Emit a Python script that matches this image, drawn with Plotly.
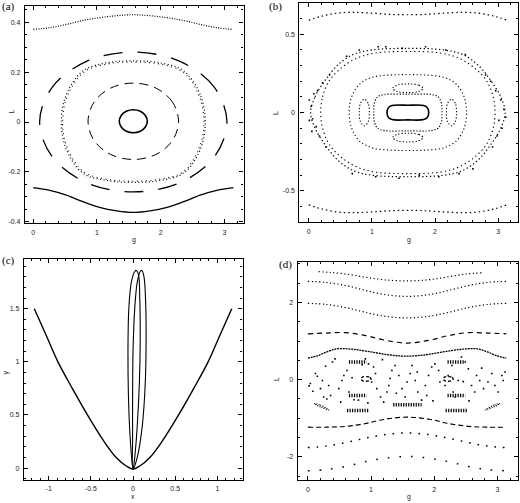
import plotly.graph_objects as go

# ---------------- panel (a): Poincare section, g vs L ----------------
a_top_g = [0, 0.26, 0.52, 0.78, 1.04, 1.31, 1.57, 1.83, 2.10, 2.36, 2.62, 2.88, 3.14]
a_top_L = [0.371, 0.378, 0.391, 0.407, 0.418, 0.426, 0.430, 0.426, 0.418, 0.407, 0.391, 0.378, 0.371]
a_bot_L = [-0.263, -0.274, -0.293, -0.319, -0.342, -0.356, -0.362, -0.356, -0.342, -0.319, -0.293, -0.274, -0.263]

a_core_g = [1.79, 1.76, 1.68, 1.57, 1.46, 1.38, 1.35, 1.38, 1.46, 1.57, 1.68, 1.76, 1.79]
a_core_L = [0.003, 0.026, 0.043, 0.049, 0.043, 0.026, 0.003, -0.020, -0.037, -0.043, -0.037, -0.020, 0.003]

a_in_g = [2.28, 2.185, 1.925, 1.57, 1.215, 0.955, 0.86, 0.955, 1.215, 1.57, 1.925, 2.185, 2.28]
a_in_L = [0.003, 0.080, 0.136, 0.156, 0.136, 0.080, 0.003, -0.074, -0.130, -0.150, -0.130, -0.074, 0.003]

a_mid_g = [2.70, 2.62, 2.36, 1.97, 1.57, 1.17, 0.78, 0.52, 0.44, 0.52, 0.78, 1.17, 1.57, 1.97, 2.36, 2.62, 2.70]
a_mid_L = [0.0, 0.11, 0.205, 0.238, 0.245, 0.238, 0.205, 0.11, 0.0, -0.11, -0.205, -0.235, -0.242, -0.235, -0.205, -0.11, 0.0]
a_mid2_g = [2.68, 2.60, 2.35, 1.965, 1.57, 1.175, 0.795, 0.54, 0.46, 0.54, 0.795, 1.175, 1.57, 1.965, 2.35, 2.60, 2.68]
a_mid2_L = [0.0, 0.107, 0.200, 0.233, 0.240, 0.233, 0.200, 0.107, 0.0, -0.107, -0.200, -0.230, -0.237, -0.230, -0.200, -0.107, 0.0]

a_out_g = [3.04, 2.84, 2.305, 1.57, 0.835, 0.30, 0.10, 0.30, 0.835, 1.57, 2.305, 2.84, 3.04]
a_out_L = [0.0, 0.14, 0.243, 0.28, 0.243, 0.14, 0.0, -0.14, -0.243, -0.28, -0.243, -0.14, 0.0]

# ---------------- panel (b) ----------------
b_edge_g = [0, 0.2, 0.45, 0.7, 1.0, 1.3, 1.57, 1.84, 2.14, 2.44, 2.69, 2.94, 3.14]
b_top_L = [0.59, 0.615, 0.635, 0.64, 0.635, 0.627, 0.625, 0.627, 0.635, 0.64, 0.635, 0.615, 0.59]
b_bot_L = [-0.59, -0.615, -0.635, -0.64, -0.635, -0.627, -0.625, -0.627, -0.635, -0.64, -0.635, -0.615, -0.59]

b_r1_g = [0.03, 0.1, 0.25, 0.45, 0.7, 1.0, 1.57, 2.14, 2.44, 2.69, 2.89, 3.04, 3.11,
          3.04, 2.89, 2.69, 2.44, 2.14, 1.57, 1.0, 0.7, 0.45, 0.25, 0.1, 0.03]
b_r1_L = [0, 0.1, 0.2, 0.3, 0.37, 0.4, 0.41, 0.4, 0.37, 0.3, 0.2, 0.1, 0,
          -0.1, -0.2, -0.3, -0.37, -0.4, -0.41, -0.4, -0.37, -0.3, -0.2, -0.1, 0]
b_r2_g = [0.19, 0.22, 0.32, 0.5, 0.75, 1.05, 1.57, 2.09, 2.39, 2.64, 2.82, 2.92, 2.95,
          2.92, 2.82, 2.64, 2.39, 2.09, 1.57, 1.05, 0.75, 0.5, 0.32, 0.22, 0.19]
b_r2_L = [0, 0.1, 0.2, 0.28, 0.345, 0.38, 0.39, 0.38, 0.345, 0.28, 0.2, 0.1, 0,
          -0.1, -0.2, -0.28, -0.345, -0.38, -0.39, -0.38, -0.345, -0.28, -0.2, -0.1, 0]

b_mid_g = [2.50, 2.46, 2.34, 2.14, 1.84, 1.57, 1.30, 1.00, 0.80, 0.68, 0.64,
           0.68, 0.80, 1.00, 1.30, 1.57, 1.84, 2.14, 2.34, 2.46, 2.50]
b_mid_L = [0, 0.1, 0.18, 0.225, 0.24, 0.242, 0.24, 0.225, 0.18, 0.1, 0,
           -0.1, -0.18, -0.225, -0.24, -0.242, -0.24, -0.225, -0.18, -0.1, 0]

b_rect_g = [2.11, 2.10, 2.05, 1.94, 1.57, 1.20, 1.09, 1.04, 1.03, 1.04, 1.09, 1.20, 1.57, 1.94, 2.05, 2.10, 2.11]
b_rect_L = [0, 0.06, 0.1, 0.115, 0.117, 0.115, 0.1, 0.06, 0, -0.06, -0.1, -0.115, -0.117, -0.115, -0.1, -0.06, 0]

b_core_g = [1.90, 1.88, 1.82, 1.57, 1.32, 1.26, 1.24, 1.26, 1.32, 1.57, 1.82, 1.88, 1.90]
b_core_L = [0, 0.03, 0.045, 0.047, 0.045, 0.03, 0, -0.03, -0.045, -0.047, -0.045, -0.03, 0]

b_ish_g = [1.81, 1.74, 1.57, 1.40, 1.33, 1.40, 1.57, 1.74, 1.81]
b_ish_top_L = [0.155, 0.175, 0.183, 0.175, 0.155, 0.135, 0.127, 0.135, 0.155]
b_ish_bot_L = [-0.16, -0.14, -0.132, -0.14, -0.16, -0.18, -0.188, -0.18, -0.16]
b_isv_left_g = [0.96, 0.94, 0.88, 0.82, 0.80, 0.82, 0.88, 0.94, 0.96]
b_isv_right_g = [2.34, 2.32, 2.26, 2.20, 2.18, 2.20, 2.26, 2.32, 2.34]
b_isv_L = [0, 0.06, 0.085, 0.06, 0, -0.06, -0.085, -0.06, 0]

b_sea_g = [0.01, 0.04, 0.06, 0.01, 0.12, 0.17, 0.27, 0.14, 0.22, 0.33, 0.08, 0.05,
           3.04, 3.09, 3.01, 3.06, 2.98, 2.91, 2.96, 2.88, 2.80, 3.12,
           0.80, 1.22, 1.48, 1.85, 2.17, 2.48, 0.60, 1.10,
           1.06, 1.43, 1.75, 2.06, 2.38, 0.69, 2.60]
b_sea_L = [0.08, 0.04, -0.04, -0.05, -0.09, -0.15, -0.22, 0.14, 0.19, 0.24, 0.12, -0.12,
           0.08, 0.02, -0.05, -0.10, -0.15, -0.22, 0.14, 0.20, 0.24, -0.03,
           0.40, 0.42, 0.41, 0.42, 0.40, 0.37, 0.36, 0.42,
           -0.41, -0.42, -0.40, -0.41, -0.39, -0.39, -0.36]

# ---------------- panel (c): orbit in x-y ----------------
c_v_x = [-1.17, -1.03, -0.89, -0.72, -0.54, -0.36, -0.2, -0.08, 0.0,
         0.08, 0.2, 0.36, 0.54, 0.72, 0.89, 1.03, 1.17]
c_v_y = [1.5, 1.25, 1.0, 0.75, 0.5, 0.27, 0.1, 0.02, -0.01,
         0.02, 0.1, 0.27, 0.5, 0.75, 1.0, 1.25, 1.5]
c_loopA_x = [0.0, -0.035, -0.055, -0.06, -0.05, -0.02, 0.02, 0.04, 0.065, 0.08, 0.085, 0.075, 0.05, 0.02, 0.0]
c_loopA_y = [-0.01, 0.3, 0.7, 1.1, 1.5, 1.75, 1.85, 1.86, 1.82, 1.6, 1.2, 0.8, 0.4, 0.1, -0.01]
c_loopB_x = [0.0, -0.005, -0.005, 0.0, 0.02, 0.05, 0.085, 0.105, 0.13, 0.15, 0.155, 0.145, 0.11, 0.05, 0.0]
c_loopB_y = [-0.01, 0.3, 0.7, 1.1, 1.5, 1.75, 1.85, 1.86, 1.8, 1.55, 1.2, 0.8, 0.4, 0.1, -0.01]

# ---------------- panel (d) ----------------
d_g = [0, 0.3, 0.6, 0.9, 1.2, 1.57, 1.94, 2.24, 2.54, 2.84, 3.14]
d1_g = [0.17, 0.35, 0.6, 0.9, 1.2, 1.57, 1.9, 2.2, 2.5, 2.75]
d1_L = [2.80, 2.78, 2.74, 2.66, 2.59, 2.56, 2.59, 2.66, 2.74, 2.77]
d2_L = [2.55, 2.52, 2.44, 2.32, 2.21, 2.16, 2.21, 2.32, 2.44, 2.52, 2.55]
d3_L = [1.98, 1.95, 1.87, 1.75, 1.65, 1.60, 1.65, 1.75, 1.87, 1.95, 1.98]
d4_L = [1.19, 1.21, 1.22, 1.15, 1.03, 0.95, 1.03, 1.15, 1.22, 1.21, 1.19]
d5_g = [0, 0.15, 0.3, 0.46, 0.7, 1.0, 1.3, 1.57, 1.84, 2.14, 2.44, 2.68, 2.84, 2.99, 3.14]
d5_L = [0.56, 0.62, 0.72, 0.80, 0.79, 0.72, 0.64, 0.61, 0.64, 0.72, 0.79, 0.80, 0.72, 0.62, 0.56]
d6_L = [-1.23, -1.23, -1.21, -1.14, -1.03, -0.97, -1.03, -1.14, -1.21, -1.23, -1.23]
d7_L = [-1.76, -1.72, -1.63, -1.52, -1.43, -1.38, -1.43, -1.52, -1.63, -1.72, -1.76]
d8_L = [-2.36, -2.33, -2.25, -2.13, -2.04, -1.99, -2.04, -2.13, -2.25, -2.33, -2.36]

# islands inside the chaotic sea: (g start, g end, L)
d_bars = [(0.65, 0.93, 0.46), (2.21, 2.49, 0.46), (0.65, 0.93, -0.41), (2.21, 2.49, -0.41),
          (0.62, 0.96, -0.80), (2.18, 2.52, -0.80), (1.35, 1.80, -0.65)]
d_diagL_g = [0.10, 0.20, 0.33, 0.22, 0.10]
d_diagL_L = [-0.62, -0.66, -0.78, -0.72, -0.62]
d_diagR_g = [3.04, 2.94, 2.81, 2.92, 3.04]
d_diagR_L = [-0.62, -0.66, -0.78, -0.72, -0.62]
d_smallL_g = [1.00, 0.97, 0.92, 0.87, 0.84, 0.87, 0.92, 0.97, 1.00]
d_smallR_g = [2.30, 2.27, 2.22, 2.17, 2.14, 2.17, 2.22, 2.27, 2.30]
d_small_L = [0.02, 0.07, 0.08, 0.07, 0.02, -0.03, -0.04, -0.03, 0.02]

d_sea_g = [0.43, 0.39, 0.28, 0.12, 0.04, 0.02, 0.15, 0.23, 0.20, 0.33, 0.36, 0.25, 0.49, 0.54,
           0.57, 0.62, 0.65, 0.73, 0.80, 0.86, 0.91, 0.96, 1.04, 1.07, 1.01, 1.09, 1.15, 1.20,
           1.25, 1.28, 1.30, 1.33, 1.38, 1.44, 1.49, 1.54, 1.57, 1.62, 1.65, 1.70, 1.74, 1.80,
           1.86, 1.88, 1.91, 1.96, 2.01, 2.07, 2.09, 2.17, 2.22, 2.28, 2.30, 2.33, 2.38, 2.43,
           2.49, 2.54, 2.59, 2.64, 2.67, 2.72, 2.78, 2.85, 2.91, 2.96, 3.01, 3.07, 3.09, 0.08,
           0.52, 0.70, 1.18, 1.40, 1.73, 1.98, 2.46, 2.75, 3.12, 0.30, 0.95, 2.55]
d_sea_L = [0.54, 0.46, 0.35, 0.16, -0.10, -0.16, 0.09, -0.02, -0.23, -0.15, -0.41, -0.45, -0.23, -0.02,
           0.11, 0.24, -0.32, -0.52, -0.53, 0.39, 0.54, 0.41, 0.33, 0.16, -0.06, -0.23, -0.45, -0.58,
           -0.32, -0.15, 0.03, 0.24, 0.37, 0.11, -0.23, -0.45, -0.06, 0.16, 0.37, -0.02, -0.32, -0.53,
           -0.15, -0.41, 0.11, 0.33, 0.41, 0.24, -0.06, -0.15, 0.11, 0.37, -0.32, -0.45, -0.02, 0.59,
           0.46, 0.28, -0.15, -0.32, 0.11, -0.02, -0.23, -0.06, 0.16, -0.15, -0.32, 0.11, -0.02, -0.30,
           -0.58, 0.05, 0.52, -0.35, 0.20, -0.55, -0.05, 0.30, 0.20, -0.50, -0.60, -0.55]

# tick labels
a_xt = [0, 1, 2, 3]
a_yt = [-0.4, -0.2, 0, 0.2, 0.4]
a_ytt = ["-0.4", "-0.2", "0", "0.2", "0.4"]
b_yt = [-0.5, 0, 0.5]
b_ytt = ["-0.5", "0", "0.5"]
c_xt = [-1, -0.5, 0, 0.5, 1]
c_xtt = ["-1", "-0.5", "0", "0.5", "1"]
c_yt = [0, 0.5, 1, 1.5]
c_ytt = ["0", "0.5", "1", "1.5"]
d_yt = [-2, 0, 2]
d_ytt = ["-2", "0", "2"]

fig = go.Figure()


def curve(n, x, y, dash="solid", width=1.0, smooth=True):
    fig.add_trace(go.Scatter(
        x=x, y=y, xaxis="x" + n, yaxis="y" + n, mode="lines",
        line=dict(color="black", width=width, dash=dash,
                  shape="spline" if smooth else "linear", smoothing=1.0),
        hoverinfo="skip", showlegend=False))


def dots(n, x, y, size=1.6):
    fig.add_trace(go.Scatter(
        x=x, y=y, xaxis="x" + n, yaxis="y" + n, mode="markers",
        marker=dict(color="black", size=size, symbol="square", line_width=0),
        hoverinfo="skip", showlegend=False))


# (a)
curve("", a_top_g, a_top_L, dash="1px,1.5px", width=1.2)
curve("", a_top_g, a_bot_L, width=1.3)
curve("", a_core_g, a_core_L, width=1.6)
curve("", a_in_g, a_in_L, dash="9px,6px", width=1.0)
curve("", a_mid_g, a_mid_L, dash="1px,2.5px", width=1.2)
curve("", a_mid2_g, a_mid2_L, dash="1px,3.5px", width=1.1)
curve("", a_out_g, a_out_L, dash="19px,15px", width=1.3)

# (b)
curve("2", b_edge_g, b_top_L, dash="1.5px,3px", width=1.2)
curve("2", b_edge_g, b_bot_L, dash="1.5px,3px", width=1.2)
curve("2", b_r1_g, b_r1_L, dash="1.3px,2.5px", width=1.2)
curve("2", b_r2_g, b_r2_L, dash="1.3px,3px", width=1.1)
dots("2", b_sea_g, b_sea_L)
curve("2", b_mid_g, b_mid_L, dash="1.2px,2.5px", width=1.1)
curve("2", b_rect_g, b_rect_L, dash="1.2px,1.8px", width=1.2)
curve("2", b_core_g, b_core_L, width=1.6)
curve("2", b_ish_g, b_ish_top_L, dash="1.2px,2px", width=1.1)
curve("2", b_ish_g, b_ish_bot_L, dash="1.2px,2px", width=1.1)
curve("2", b_isv_left_g, b_isv_L, dash="1.2px,2px", width=1.1)
curve("2", b_isv_right_g, b_isv_L, dash="1.2px,2px", width=1.1)

# (c)
curve("3", c_v_x, c_v_y, width=1.4)
curve("3", c_loopA_x, c_loopA_y, width=1.1)
curve("3", c_loopB_x, c_loopB_y, width=1.1)

# (d)
curve("4", d1_g, d1_L, dash="1.2px,2.5px", width=1.2)
curve("4", d_g, d2_L, dash="1.2px,2.5px", width=1.2)
curve("4", d_g, d3_L, dash="1.2px,2.5px", width=1.2)
curve("4", d_g, d4_L, dash="5px,4px", width=1.2)
curve("4", d5_g, d5_L, dash="2px,0.8px", width=1.3)
curve("4", d_g, d6_L, dash="5px,3px", width=1.1)
curve("4", d_g, d7_L, dash="1.6px,7px", width=1.5)
curve("4", d_g, d8_L, dash="1.6px,10px", width=1.5)
for g0, g1, L0 in d_bars:
    curve("4", [g0, g1], [L0, L0], dash="1.2px,1.3px", width=3.5, smooth=False)
curve("4", d_diagL_g, d_diagL_L, dash="1px,1.3px", width=1.2)
curve("4", d_diagR_g, d_diagR_L, dash="1px,1.3px", width=1.2)
curve("4", d_smallL_g, d_small_L, dash="3px,2px", width=1.4)
curve("4", d_smallR_g, d_small_L, dash="3px,2px", width=1.4)
dots("4", d_sea_g, d_sea_L)

W, H = 520, 503
tickfont = dict(family="Liberation Sans, Arial, sans-serif", size=7, color="#222")


def axis(rng, dom, dtick_minor, vals, text=None, anchor=""):
    return dict(
        range=rng, domain=dom, anchor=anchor,
        tickmode="array", tickvals=vals, ticktext=text if text else [str(v) for v in vals],
        ticks="inside", ticklen=4, tickwidth=1, tickcolor="black",
        minor=dict(tickmode="linear", tick0=0, dtick=dtick_minor, ticks="inside",
                   ticklen=2, tickwidth=1, tickcolor="black"),
        showline=True, linecolor="black", linewidth=1.2, mirror="allticks",
        showgrid=False, zeroline=False, tickfont=tickfont, ticklabelstandoff=2,
    )


fig.update_layout(
    width=W, height=H, margin=dict(l=0, r=0, t=0, b=0),
    paper_bgcolor="white", plot_bgcolor="white", showlegend=False,
    xaxis=axis([-0.13, 3.30], [25 / W, 244 / W], 0.2, a_xt, anchor="y"),
    yaxis=axis([-0.405, 0.465], [1 - 224 / H, 1 - 6 / H], 0.05, a_yt, a_ytt, anchor="x"),
    xaxis2=axis([-0.147, 3.318], [300 / W, 519.3 / W], 0.2, a_xt, anchor="y2"),
    yaxis2=axis([-0.7, 0.7], [1 - 223 / H, 1 - 3 / H], 0.1, b_yt, b_ytt, anchor="x2"),
    xaxis3=axis([-1.293, 1.298], [24 / W, 243 / W], 0.1, c_xt, c_xtt, anchor="y3"),
    yaxis3=axis([-0.11, 1.968], [1 - 481.7 / H, 1 - 260 / H], 0.1, c_yt, c_ytt, anchor="x3"),
    xaxis4=axis([-0.16, 3.33], [298.3 / W, 519.3 / W], 0.2, a_xt, anchor="y4"),
    yaxis4=axis([-2.61, 3.06], [1 - 482.3 / H, 1 - 262.7 / H], 0.5, d_yt, d_ytt, anchor="x4"),
)

labfont = dict(family="Liberation Sans, Arial, sans-serif", size=7, color="#222")
panfont = dict(family="Liberation Serif, Times New Roman, serif", size=11, color="black")
notes = [
    ("(a)", 0, 7, panfont, 0, "left"), ("(b)", 268, 7, panfont, 0, "left"),
    ("(c)", 0, 262, panfont, 0, "left"), ("(d)", 278, 266, panfont, 0, "left"),
    ("g", 134, 241, labfont, 0, "center"), ("L", 12, 112, labfont, -90, "center"),
    ("g", 410, 241, labfont, 0, "center"), ("L", 276, 113, labfont, -90, "center"),
    ("x", 133, 498.5, labfont, 0, "center"), ("y", 6, 374, labfont, -90, "center"),
    ("g", 410, 498.5, labfont, 0, "center"), ("L", 277, 380, labfont, -90, "center"),
]
for txt, px, py, f, ang, xa in notes:
    fig.add_annotation(text=txt, x=px / W, y=1 - py / H, xref="paper", yref="paper",
                       showarrow=False, font=f, textangle=ang,
                       xanchor=xa, yanchor="middle")

# page body has a default 8px margin; drop it so the figure fills the window
fig.write_html("out.html", config={"displayModeBar": False},
               post_script="document.body.style.margin='0';")
